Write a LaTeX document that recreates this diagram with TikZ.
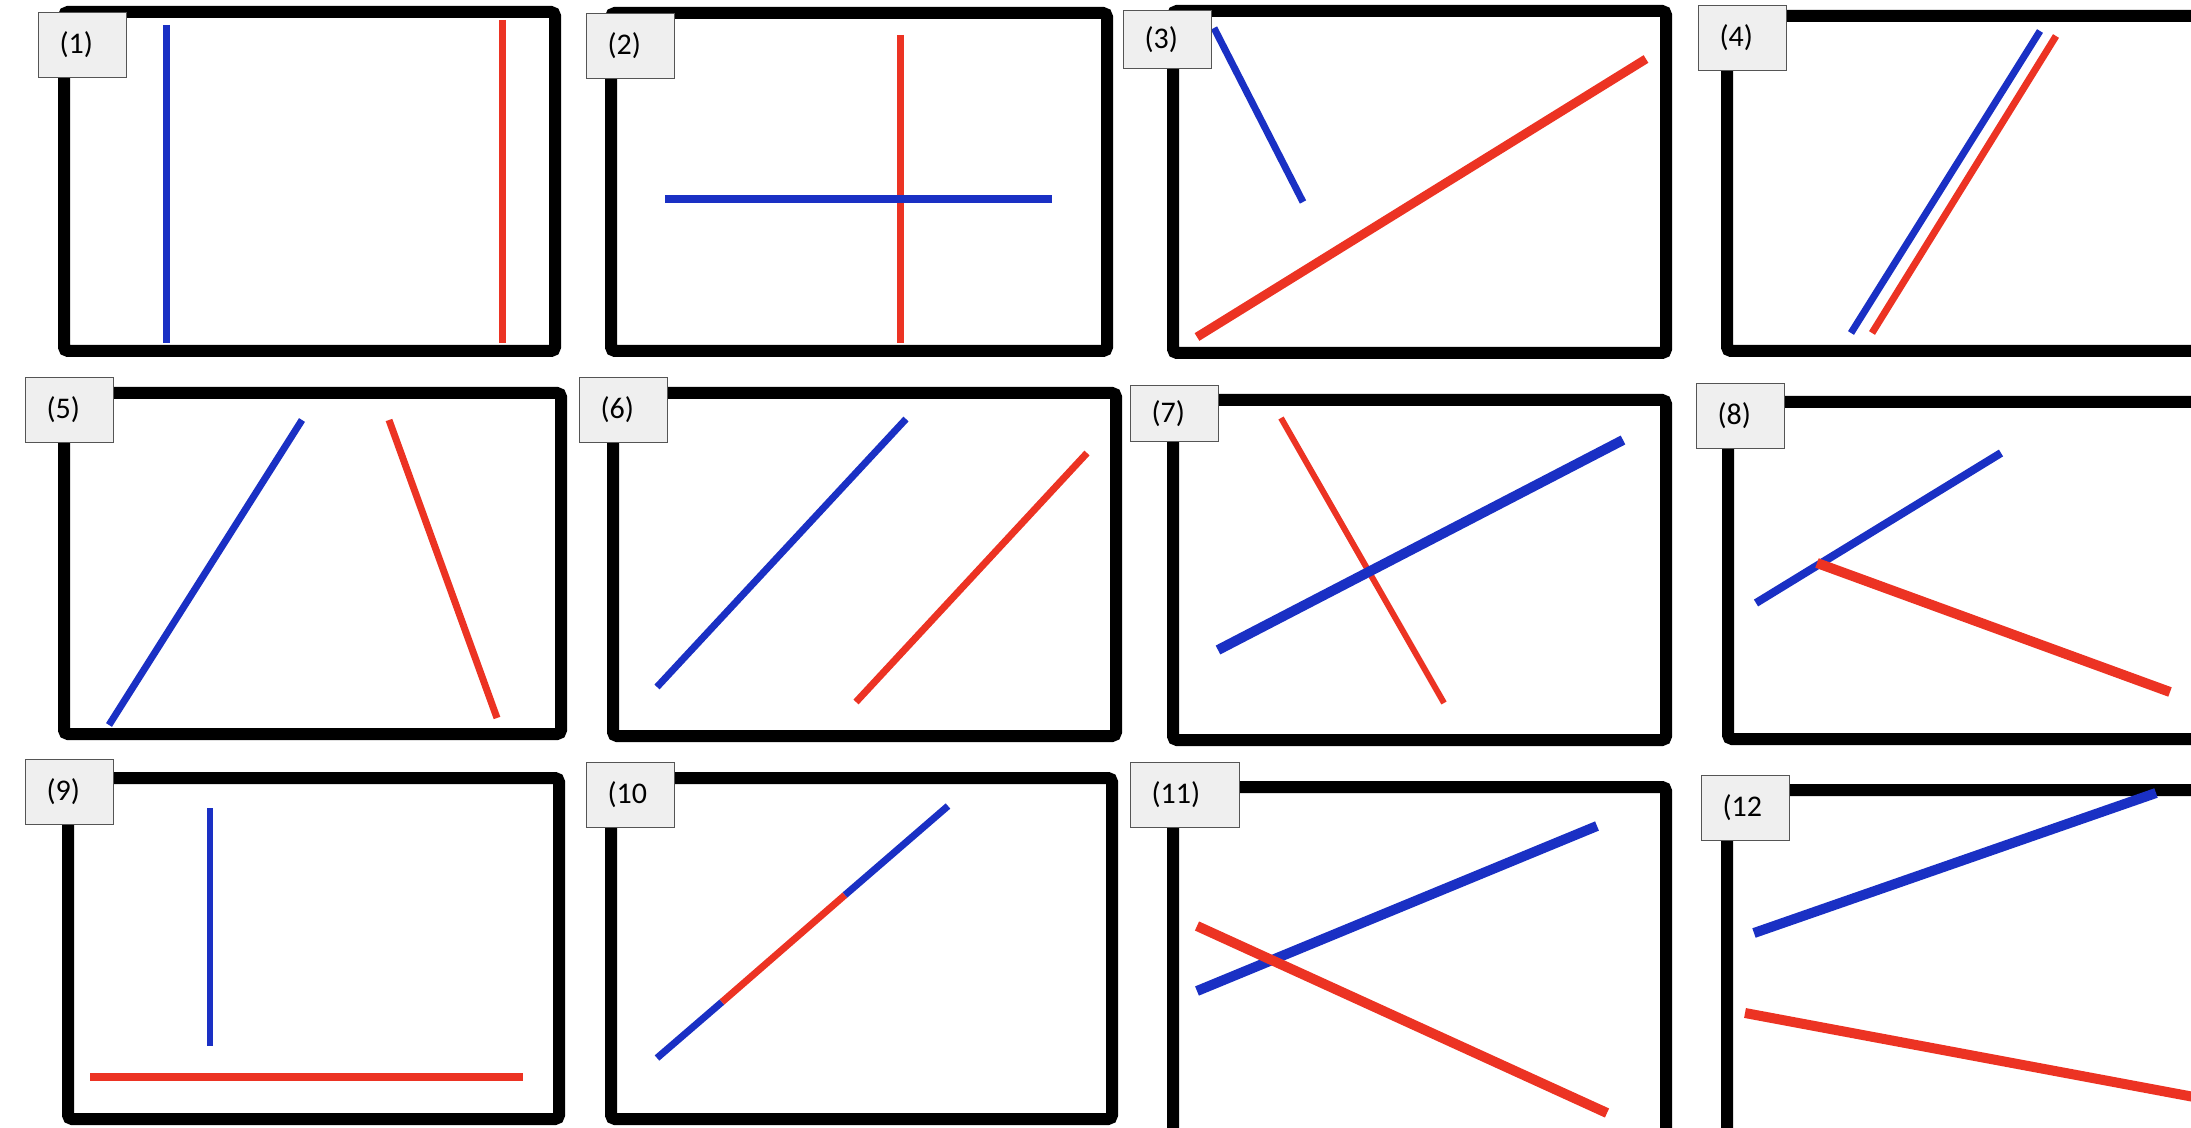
\documentclass[tikz,border=0pt]{standalone}
\usepackage{fontspec}
\setmainfont{Carlito}
\usepackage{xcolor}
\usepackage{tikz}
\definecolor{segblue}{HTML}{1A30C4}
\definecolor{segred}{HTML}{EC3323}
\definecolor{tagfill}{HTML}{EFEFEF}
\definecolor{tagline}{HTML}{555555}
\tikzset{
  frame/.style={draw=black,line width=6pt,rounded corners=2pt},
  tag/.style={draw=tagline,fill=tagfill,line width=.6pt,anchor=north west,align=left,
              inner xsep=10.5pt,inner ysep=0pt,minimum height=32.5pt,text width=23pt,
              font=\fontsize{15}{17}\selectfont},
  blueseg/.style={draw=segblue,line width=3.5pt},
  redseg/.style={draw=segred,line width=3.5pt}
}

\begin{document}
\begin{tikzpicture}[x=.5pt,y=-.5pt]
  \useasboundingbox (0,0) rectangle (2191,1128);
  \clip (0,0) rectangle (2191,1128);
  % frames, row by row
  \draw[frame] (64,12) rectangle (555,351);
  \draw[frame] (611,13) rectangle (1107,351);
  \draw[frame] (1173,11) rectangle (1666,353);
  \draw[frame] (1727,16) rectangle (2300,351);
  \draw[frame] (64,393) rectangle (561,734);
  \draw[frame] (613,393) rectangle (1116,736);
  \draw[frame] (1173,400) rectangle (1666,740);
  \draw[frame] (1728,402) rectangle (2300,739);
  \draw[frame] (68,778) rectangle (559,1119);
  \draw[frame] (611,778) rectangle (1112,1119);
  \draw[frame] (1173,787) rectangle (1666,1200);
  \draw[frame] (1727,790) rectangle (2300,1200);
  % (1)-(4)
  \draw[blueseg] (166,25) -- (166,343);
  \draw[redseg] (502,20) -- (502,343);
  \draw[redseg] (900,35) -- (900,343);
  \draw[blueseg,line width=4pt] (665,199) -- (1052,199);
  \draw[blueseg] (1214,28) -- (1303,202);
  \draw[redseg,line width=4.5pt] (1197,337) -- (1646,59);
  \draw[blueseg] (2040,31) -- (1851,333);
  \draw[redseg] (2056,36) -- (1872,333);
  % (5)-(8)
  \draw[blueseg] (302,420) -- (109,725);
  \draw[redseg] (389,420) -- (497,718);
  \draw[blueseg] (906,419) -- (657,687);
  \draw[redseg] (1087,453) -- (856,702);
  \draw[redseg,line width=3pt] (1281,418) -- (1444,703);
  \draw[blueseg,line width=5pt] (1218,650) -- (1623,440);
  \draw[blueseg,line width=4pt] (1756,603) -- (2001,453);
  \draw[redseg,line width=5pt] (1817,563) -- (2170,692);
  % (9)-(12)
  \draw[blueseg,line width=3pt] (210,808) -- (210,1046);
  \draw[redseg,line width=4pt] (90,1077) -- (523,1077);
  \draw[blueseg] (657,1058) -- (722,1002);
  \draw[redseg] (722,1002) -- (845,895);
  \draw[blueseg] (845,895) -- (948,806);
  \draw[blueseg,line width=5pt] (1197,991) -- (1597,826);
  \draw[redseg,line width=5pt] (1197,926) -- (1607,1113);
  \draw[blueseg,line width=5pt] (1754,933) -- (2156,793);
  \draw[redseg,line width=5pt] (1745,1013) -- (2194,1097);
  % number tags
  \node[tag] (t1) at (38,12) {(1)};
  \node[tag] (t2) at (586,13) {(2)};
  \node[tag,minimum height=29pt] (t3) at (1123,10) {(3)};
  \node[tag] (t4) at (1698,5) {(4)};
  \node[tag] (t5) at (25,377) {(5)};
  \node[tag] (t6) at (579,377) {(6)};
  \node[tag,minimum height=28pt] (t7) at (1130,385) {(7)};
  \node[tag] (t8) at (1696,383) {(8)};
  \node[tag] (t9) at (25,759) {(9)};
  \node[tag] (t10) at (586,762) {(10};
  \node[tag,text width=33.5pt] (t11) at (1130,762) {(11)};
  \node[tag] (t12) at (1701,775) {(12};
\end{tikzpicture}
\end{document}
